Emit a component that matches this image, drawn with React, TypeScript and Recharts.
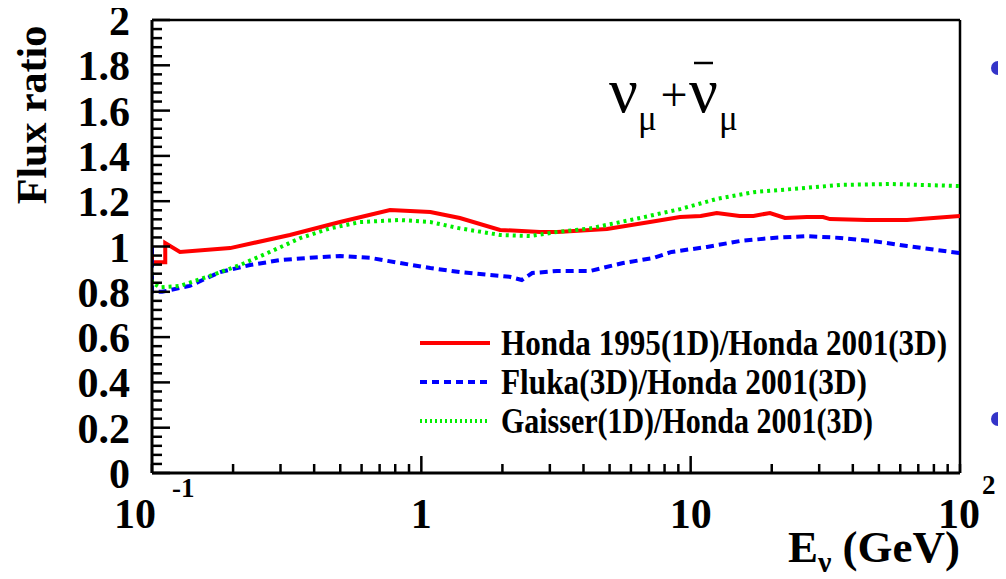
import { Customized, Legend, Line, LineChart, ReferenceLine, XAxis, YAxis } from "recharts";

// Flux ratios vs. neutrino energy (GeV), one pair of lists per model comparison
const honda95Energy = [0.1, 0.1, 0.112, 0.112, 0.127, 0.195, 0.325, 0.499, 0.765, 1.08, 1.39, 1.96, 2.76, 3.19, 4.89, 7.06, 9.13, 10.9, 12.5, 15.2, 17.1, 19.7, 22.4, 27.0, 31.0, 32.9, 45.2, 63.6, 100];
const honda95Ratio = [0.99, 0.93, 0.93, 1.015, 0.976, 0.993, 1.051, 1.108, 1.161, 1.152, 1.126, 1.073, 1.064, 1.064, 1.077, 1.108, 1.13, 1.135, 1.148, 1.135, 1.135, 1.148, 1.126, 1.13, 1.13, 1.121, 1.117, 1.117, 1.135];

const flukaEnergy = [0.1, 0.1, 0.109, 0.138, 0.179, 0.231, 0.299, 0.386, 0.499, 0.645, 0.833, 1.08, 1.39, 1.8, 2.13, 2.36, 2.58, 3.19, 4.23, 5.61, 7.25, 8.49, 11.5, 15.2, 20.2, 27.0, 35.9, 47.6, 63.6, 100];
const flukaRatio = [1.0, 0.8, 0.8, 0.826, 0.887, 0.918, 0.94, 0.95, 0.958, 0.95, 0.927, 0.905, 0.887, 0.874, 0.866, 0.852, 0.883, 0.892, 0.892, 0.927, 0.949, 0.976, 0.998, 1.024, 1.038, 1.046, 1.038, 1.024, 1.002, 0.971];

const gaisserEnergy = [0.1, 0.1, 0.107, 0.127, 0.164, 0.212, 0.274, 0.355, 0.458, 0.592, 0.833, 1.08, 1.39, 1.96, 2.53, 3.19, 4.23, 6.49, 9.13, 12.5, 17.1, 24.0, 35.9, 55.0, 100];
const gaisserRatio = [0.885, 0.84, 0.82, 0.826, 0.87, 0.918, 0.976, 1.037, 1.08, 1.108, 1.117, 1.108, 1.08, 1.051, 1.046, 1.064, 1.08, 1.126, 1.165, 1.21, 1.24, 1.254, 1.272, 1.276, 1.267];

const seriesNames = ["Honda 1995(1D)/Honda 2001(3D)", "Fluka(3D)/Honda 2001(3D)", "Gaisser(1D)/Honda 2001(3D)"];

// log axis ticks, labelled only at the decades
const energyTicks = [0.1, 0.2, 0.3, 0.4, 0.5, 0.6, 0.7, 0.8, 0.9, 1, 2, 3, 4, 5, 6, 7, 8, 9, 10, 20, 30, 40, 50, 60, 70, 80, 90, 100];
const energyDecades = [0.1, 1, 10, 100];
const energyMantissa = ["10", "1", "10", "10"];
const energyExponent = ["-1", "", "", "2"];

const ratioMajor = [0, 0.2, 0.4, 0.6, 0.8, 1, 1.2, 1.4, 1.6, 1.8, 2];
const ratioLabels = ["0", "0.2", "0.4", "0.6", "0.8", "1", "1.2", "1.4", "1.6", "1.8", "2"];
const ratioTicks = Array.from({ length: 51 }, (_, i) => Math.round(i * 4) / 100);

const toPoints = (energy: number[], ratio: number[]) => energy.map((e, i) => ({ e, r: ratio[i] }));

const series = [
  { name: seriesNames[0], data: toPoints(honda95Energy, honda95Ratio), color: "#ff0000", dash: undefined, legendDash: undefined, textLength: 446 },
  { name: seriesNames[1], data: toPoints(flukaEnergy, flukaRatio), color: "#0000ff", dash: "8 5", legendDash: "7 5", textLength: 366 },
  { name: seriesNames[2], data: toPoints(gaisserEnergy, gaisserRatio), color: "#00ee00", dash: "3 4", legendDash: "2 3", textLength: 372 },
];

const FONT = "'Liberation Serif', 'Times New Roman', serif";

function EnergyTick({ x, y, payload }: any) {
  const v = payload.value;
  const d = energyDecades.findIndex((t) => Math.abs(t - v) < 1e-9);
  const major = d === 1 || d === 2;
  const exp = d >= 0 ? energyExponent[d] : "";
  // powers of ten sit a little left of their tick, like ROOT draws them
  const mx = exp === "-1" ? x - 17 : exp ? x - 1 : x;
  return (
    <g>
      <line x1={x} x2={x} y1={y} y2={y - (major ? 17 : 9)} stroke="#000" strokeWidth={2.5} />
      {d >= 0 && (
        <g fontFamily={FONT} fontWeight="bold" fill="#000">
          <text x={mx} y={y + 55} textAnchor="middle" fontSize={42}>
            {energyMantissa[d]}
          </text>
          {exp && (
            <text x={exp === "-1" ? mx + 37 : mx + 23} y={y + (exp === "-1" ? 24 : 21)} fontSize={27}>
              {exp}
            </text>
          )}
        </g>
      )}
    </g>
  );
}

function RatioTick({ x, y, payload }: any) {
  const v = payload.value;
  const m = ratioMajor.findIndex((t) => Math.abs(t - v) < 1e-9);
  return (
    <g>
      <line x1={x} x2={x + (m >= 0 ? 18 : 10)} y1={y} y2={y} stroke="#000" strokeWidth={2.5} />
      {m >= 0 && (
        <text x={x - 22} y={y + 15} textAnchor="end" fontFamily={FONT} fontWeight="bold" fontSize={42} fill="#000">
          {ratioLabels[m]}
        </text>
      )}
    </g>
  );
}

// legend rows keep the drawing order of the series
function LegendBox() {
  return (
    <svg width={560} height={130} style={{ overflow: "visible" }}>
      {series.map((s, i) => {
        const cy = 20 + i * 39;
        return (
          <g key={s.name}>
            <line x1={7} x2={77} y1={cy} y2={cy} stroke={s.color} strokeWidth={4} strokeDasharray={s.legendDash} />
            <text
              x={88}
              y={cy + 12}
              fontFamily={FONT}
              fontWeight="bold"
              fontSize={35}
              textLength={s.textLength}
              lengthAdjust="spacingAndGlyphs"
              fill="#000"
            >
              {s.name}
            </text>
          </g>
        );
      })}
    </svg>
  );
}

// titles, the nu_mu + anti-nu_mu label and the slide bullets beside the frame
function Annotations() {
  return (
    <g fontFamily={FONT} fill="#000">
      <text transform="translate(38,107) rotate(-90)" textAnchor="middle" fontWeight="bold" fontSize={42}>
        Flux ratio
      </text>
      <text x={952} y={554} textAnchor="end" fontWeight="bold" fontSize={45}>
        <tspan>E</tspan>
        <tspan fontSize={30} dy={10}>ν</tspan>
        <tspan dy={-10}> (GeV)</tspan>
      </text>
      <text x={601} y={104} fontSize={64}>ν</text>
      <text x={630} y={122} fontSize={35}>μ</text>
      <text x={666} y={103} fontSize={48} textAnchor="middle">+</text>
      <text x={681} y={104} fontSize={64}>ν</text>
      <line x1={686} x2={705} y1={55} y2={55} stroke="#000" strokeWidth={2.5} />
      <text x={711} y={122} fontSize={35}>μ</text>
      <circle cx={990} cy={60} r={7} fill="#3434c8" />
      <circle cx={990} cy={411} r={7} fill="#3434c8" />
    </g>
  );
}

export default function App() {
  return (
    <LineChart width={998} height={571} margin={{ top: 12, right: 46, bottom: 105, left: 143 }}>
      <XAxis
        type="number"
        dataKey="e"
        scale="log"
        domain={[0.1, 100]}
        allowDataOverflow
        ticks={energyTicks}
        interval={0}
        height={1}
        tickSize={0}
        tickMargin={0}
        tickLine={false}
        axisLine={{ stroke: "#000", strokeWidth: 3 }}
        tick={<EnergyTick />}
      />
      <YAxis
        type="number"
        dataKey="r"
        domain={[0, 2]}
        allowDataOverflow
        ticks={ratioTicks}
        interval={0}
        width={1}
        tickSize={0}
        tickMargin={0}
        tickLine={false}
        axisLine={{ stroke: "#000", strokeWidth: 3 }}
        tick={<RatioTick />}
      />
      <ReferenceLine y={2} stroke="#000" strokeWidth={2.5} />
      <ReferenceLine x={100} stroke="#000" strokeWidth={2.5} />
      {series.map((s) => (
        <Line
          key={s.name}
          name={s.name}
          data={s.data}
          dataKey="r"
          type="linear"
          stroke={s.color}
          strokeWidth={4}
          strokeDasharray={s.dash}
          dot={false}
          activeDot={false}
          isAnimationActive={false}
        />
      ))}
      <Legend
        layout="horizontal"
        verticalAlign="middle"
        align="center"
        content={<LegendBox />}
        wrapperStyle={{ left: 405, top: 315, width: 560, height: 130 }}
      />
      <Customized component={<Annotations />} />
    </LineChart>
  );
}
